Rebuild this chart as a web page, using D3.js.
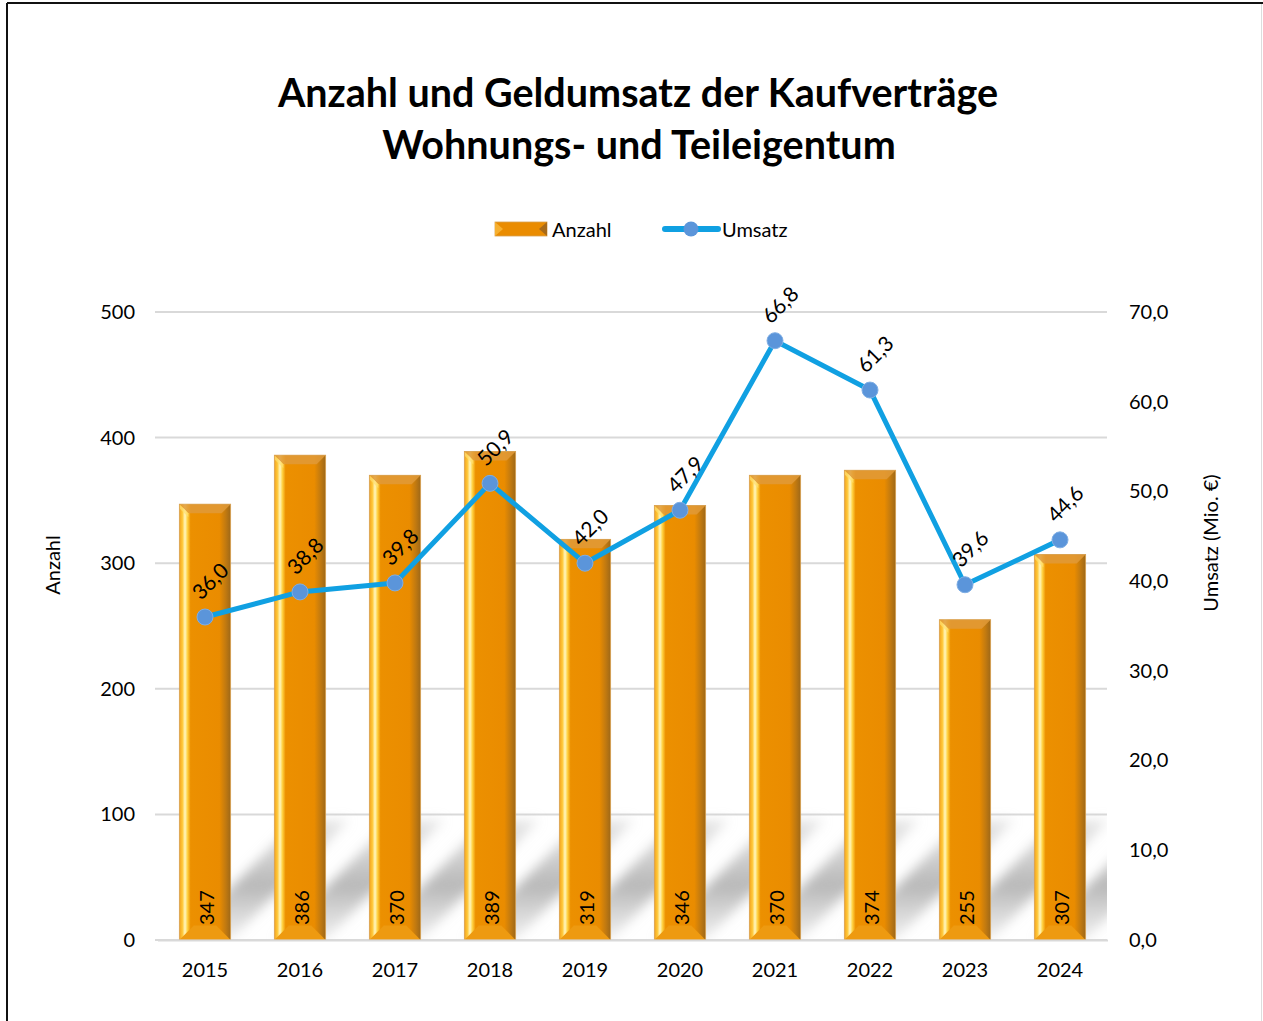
<!DOCTYPE html>
<html>
<head>
<meta charset="utf-8">
<script src="https://d3js.org/d3.v7.min.js"></script>
<style>
  body { margin: 0; background: #fff; }
  svg text { font-family: Lato, "Open Sans", sans-serif; fill: #000; }
</style>
</head>
<body>
<div id="chart"></div>
<script>
var years = ["2015","2016","2017","2018","2019","2020","2021","2022","2023","2024"],
    anzahl = [347, 386, 370, 389, 319, 346, 370, 374, 255, 307],
    umsatz = [36.0, 38.8, 39.8, 50.9, 42.0, 47.9, 66.8, 61.3, 39.6, 44.6],
    leftTicks = [0, 100, 200, 300, 400, 500],
    rightTicks = [0, 10, 20, 30, 40, 50, 60, 70];

var W = 1263, H = 1021,
    m = {t:312, r:156, b:81, l:155},
    w = W - m.l - m.r,
    h = H - m.t - m.b;

var svg = d3.select("#chart").append("svg")
  .attr("width", W)
  .attr("height", H);

var defs = svg.append("defs");

// bar body gradient (bright left edge, dark right edge)
var gBar = defs.append("linearGradient").attr("id","barGrad")
  .attr("x1","0").attr("x2","1").attr("y1","0").attr("y2","0");
[[0,"#F2A21E"],[0.06,"#FFC83A"],[0.11,"#FFF7C0"],[0.16,"#FFD040"],[0.22,"#EC9000"],
 [0.78,"#EA8C00"],[0.9,"#C27A10"],[1,"#9E6818"]].forEach(function(s){
  gBar.append("stop").attr("offset", s[0]).attr("stop-color", s[1]);
});

var blur = defs.append("filter").attr("id","shadowBlur")
  .attr("x","-20%").attr("y","-20%").attr("width","140%").attr("height","140%");
blur.append("feGaussianBlur").attr("stdDeviation", 6);

var gShadow = defs.append("linearGradient").attr("id","shadowGrad")
  .attr("x1","0").attr("x2","0").attr("y1","1").attr("y2","0");
gShadow.append("stop").attr("offset",0).attr("stop-color","#c4c4c4").attr("stop-opacity",0.25);
gShadow.append("stop").attr("offset",0.45).attr("stop-color","#b8b8b8").attr("stop-opacity",1);
gShadow.append("stop").attr("offset",1).attr("stop-color","#c4c4c4").attr("stop-opacity",0.4);

defs.append("clipPath").attr("id","plotClip")
  .append("rect").attr("x",0).attr("y",0).attr("width",w).attr("height",h);

// frame
svg.append("line").attr("x1",7).attr("x2",7).attr("y1",3).attr("y2",H)
  .attr("stroke","#111").attr("stroke-width",2);
svg.append("line").attr("x1",7).attr("x2",W).attr("y1",3).attr("y2",3)
  .attr("stroke","#111").attr("stroke-width",2);
svg.append("line").attr("x1",W-1.5).attr("x2",W-1.5).attr("y1",4).attr("y2",H)
  .attr("stroke","#ddd").attr("stroke-width",1);

// title
svg.append("text").attr("x",638).attr("y",107).attr("text-anchor","middle")
  .style("font-size","39.5px").style("font-weight","bold")
  .text("Anzahl und Geldumsatz der Kaufverträge");
svg.append("text").attr("x",639).attr("y",159).attr("text-anchor","middle")
  .style("font-size","39.5px").style("font-weight","bold")
  .text("Wohnungs- und Teileigentum");

var g = svg.append("g").attr("transform","translate("+m.l+","+m.t+")");

var x = d3.scaleBand().domain(years).range([2.5, 952.5]).paddingInner(0.46).paddingOuter(0.23);
var yL = d3.scaleLinear().domain([0, 500]).range([h, 0]);
var yR = d3.scaleLinear().domain([0, 70]).range([h, 0]);

// gridlines
g.selectAll(".grid").data(leftTicks).enter().append("line")
  .attr("x1",0).attr("x2",w)
  .attr("y1",function(d){ return yL(d); }).attr("y2",function(d){ return yL(d); })
  .attr("stroke","#d9d9d9").attr("stroke-width",2);

// diagonal shadows behind bars
var sh = 120, sk = 118;
g.append("g").attr("clip-path","url(#plotClip)")
  .selectAll("path").data(years).enter().append("path")
  .attr("d", function(d){
    var x0 = x(d), x1 = x(d) + x.bandwidth();
    return "M"+x0+","+h+" L"+x1+","+h+" L"+(x1+sk)+","+(h-sh)+" L"+(x0+sk)+","+(h-sh)+"Z";
  })
  .attr("fill","url(#shadowGrad)")
  .attr("filter","url(#shadowBlur)");

// bars
var bars = g.selectAll(".bar").data(years).enter().append("g").attr("class","bar");
var bw = x.bandwidth(), bev = 9;
bars.append("rect")
  .attr("x", function(d){ return x(d); })
  .attr("y", function(d,i){ return yL(anzahl[i]); })
  .attr("width", bw)
  .attr("height", function(d,i){ return h - yL(anzahl[i]); })
  .attr("fill","url(#barGrad)");
// top bevel
bars.append("path")
  .attr("d", function(d,i){
    var x0 = x(d), y0 = yL(anzahl[i]);
    return "M"+x0+","+y0+" L"+(x0+bw)+","+y0+" L"+(x0+bw-bev)+","+(y0+bev)+" L"+(x0+bev)+","+(y0+bev)+"Z";
  })
  .attr("fill","#E09A38").attr("opacity",0.85);
bars.append("path")
  .attr("d", function(d,i){
    var x0 = x(d), y0 = yL(anzahl[i]);
    return "M"+x0+","+y0+" L"+(x0+bev)+","+(y0+bev)+" L"+(x0+bev)+","+(y0+bev+4)+" L"+x0+","+(y0+4)+"Z";
  })
  .attr("fill","#FFE070").attr("opacity",0.7);
// bottom bevel
bars.append("path")
  .attr("d", function(d){
    var x0 = x(d), y0 = h;
    return "M"+x0+","+y0+" L"+(x0+bw)+","+y0+" L"+(x0+bw-bev*1.6)+","+(y0-bev*1.6)+" L"+(x0+bev*1.6)+","+(y0-bev*1.6)+"Z";
  })
  .attr("fill","#EE9A10");
bars.append("rect")
  .attr("x", function(d){ return x(d); })
  .attr("y", function(d,i){ return yL(anzahl[i]); })
  .attr("width", bw)
  .attr("height", function(d,i){ return h - yL(anzahl[i]); })
  .attr("fill","none").attr("stroke","#D8A050").attr("stroke-width",0.8);

// bar value labels
bars.append("text")
  .attr("transform", function(d){ return "translate("+(x(d)+bw/2+1)+","+(h-15)+") rotate(-90)"; })
  .attr("dominant-baseline","central")
  .style("font-size","20px")
  .text(function(d,i){ return anzahl[i]; });

// line
var line = d3.line()
  .x(function(d,i){ return x(years[i]) + bw/2; })
  .y(function(d){ return yR(d); });
g.append("path").datum(umsatz)
  .attr("d", line)
  .attr("fill","none").attr("stroke","#10A0E2").attr("stroke-width",5)
  .attr("stroke-linejoin","round");

g.selectAll(".dot").data(umsatz).enter().append("circle")
  .attr("cx", function(d,i){ return x(years[i]) + bw/2; })
  .attr("cy", function(d){ return yR(d); })
  .attr("r", 8)
  .attr("fill","#5B95DA").attr("stroke","#7FAEE4").attr("stroke-width",1);

var fmt = function(v){ return v.toFixed(1).replace(".", ","); };
g.selectAll(".lab").data(umsatz).enter().append("text")
  .attr("transform", function(d,i){
    return "translate("+(x(years[i]) + bw/2 - 4)+","+(yR(d) - 16)+") rotate(-45)";
  })
  .style("font-size","21px")
  .text(fmt);

// axes
var axL = g.append("g").call(d3.axisLeft(yL).tickValues(leftTicks).tickSize(0).tickPadding(20));
axL.select(".domain").remove();
axL.selectAll("text").style("font-size","20px").attr("fill","#000");

var axR = g.append("g").attr("transform","translate("+w+",0)")
  .call(d3.axisRight(yR).tickValues(rightTicks).tickSize(0).tickPadding(22).tickFormat(fmt));
axR.select(".domain").remove();
axR.selectAll("text").style("font-size","20px").attr("fill","#000");

var axB = g.append("g").attr("transform","translate(0,"+h+")")
  .call(d3.axisBottom(x).tickSize(0).tickPadding(23));
axB.select(".domain").attr("stroke","#d9d9d9").attr("stroke-width",2);
axB.selectAll("text").style("font-size","20px").attr("fill","#000");

// axis titles
svg.append("text").attr("transform","translate(52,565) rotate(-90)")
  .attr("text-anchor","middle").attr("dominant-baseline","central")
  .style("font-size","20px").text("Anzahl");
svg.append("text").attr("transform","translate(1210,543) rotate(-90)")
  .attr("text-anchor","middle").attr("dominant-baseline","central")
  .style("font-size","20px").text("Umsatz (Mio. €)");

// legend
var lg = svg.append("g");
lg.append("rect").attr("x",495).attr("y",222).attr("width",52).attr("height",14)
  .attr("fill","#EA8C00").attr("stroke","#D8A050").attr("stroke-width",0.8);
lg.append("path").attr("d","M495,222 L503,229 L495,236Z").attr("fill","#F6B030");
lg.append("path").attr("d","M547,222 L539,229 L547,236Z").attr("fill","#A86A18");
lg.append("text").attr("x",552).attr("y",229).attr("dominant-baseline","central")
  .style("font-size","20px").text("Anzahl");
lg.append("line").attr("x1",665).attr("x2",718).attr("y1",229).attr("y2",229)
  .attr("stroke","#10A0E2").attr("stroke-width",6).attr("stroke-linecap","round");
lg.append("circle").attr("cx",691).attr("cy",229).attr("r",7.5).attr("fill","#5B95DA");
lg.append("text").attr("x",722).attr("y",229).attr("dominant-baseline","central")
  .style("font-size","20px").text("Umsatz");
</script>
</body>
</html>
